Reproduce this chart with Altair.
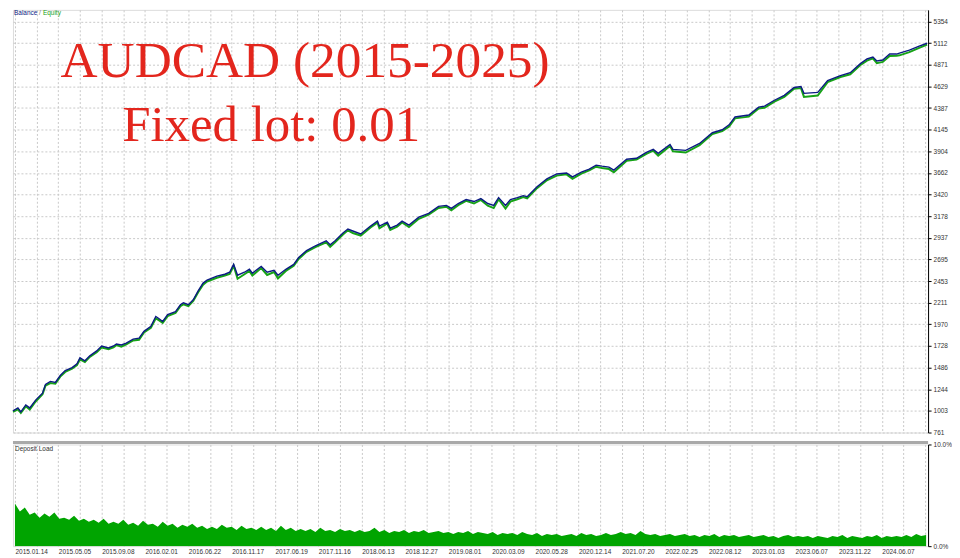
import json
import altair as alt
import pandas as pd

# ---------------- data ----------------
# trade index (position along the test) and balance values
bal_x = [0, 5, 8, 13, 17, 23, 30, 33, 38, 43,
         48, 53, 60, 65, 68, 73, 78, 85, 90, 97,
         102, 105, 110, 115, 122, 128, 133, 140, 145, 148,
         152, 157, 165, 170, 173, 178, 183, 188, 193, 197,
         207, 215, 220, 224, 228, 235, 240, 243, 252, 258,
         265, 269, 277, 285, 290, 298, 307, 318, 322, 327,
         335, 340, 345, 353, 363, 370, 372, 380, 383, 390,
         395, 402, 412, 422, 432, 440, 445, 452, 460, 468,
         475, 482, 488, 493, 500, 505, 512, 518, 522, 532,
         542, 552, 562, 568, 577, 585, 592, 598, 605, 610,
         623, 633, 643, 650, 655, 667, 670, 683, 697, 710,
         720, 727, 733, 747, 757, 763, 773, 783, 793, 800,
         803, 817, 827, 840, 850, 860, 867, 873, 877, 883,
         890, 897, 900, 910, 920, 928]

balance = [1003, 1036, 992, 1069, 1036, 1123, 1200, 1299, 1332, 1321,
           1398, 1453, 1486, 1530, 1596, 1563, 1618, 1673, 1728, 1706,
           1728, 1750, 1739, 1761, 1805, 1816, 1892, 1947, 2057, 2035,
           2002, 2079, 2112, 2189, 2211, 2189, 2244, 2343, 2431, 2464,
           2508, 2530, 2552, 2640, 2519, 2552, 2585, 2541, 2617, 2552,
           2574, 2519, 2585, 2640, 2716, 2793, 2848, 2903, 2859, 2903,
           2991, 3035, 3013, 2980, 3068, 3123, 3068, 3112, 3046, 3079,
           3123, 3079, 3167, 3211, 3288, 3299, 3266, 3320, 3364, 3342,
           3375, 3320, 3299, 3386, 3299, 3364, 3386, 3408, 3397, 3507,
           3595, 3650, 3661, 3617, 3672, 3705, 3749, 3738, 3727, 3694,
           3815, 3826, 3892, 3925, 3881, 3980, 3925, 3914, 3991, 4111,
           4144, 4199, 4287, 4309, 4397, 4408, 4474, 4529, 4617, 4628,
           4551, 4562, 4694, 4749, 4782, 4880, 4935, 4957, 4913, 4924,
           4990, 4990, 5001, 5034, 5078, 5111]

# how far equity sits below balance at each point
eq_gap = [10, 15, 12, 15, 18, 15, 12, 15, 18, 15,
          12, 15, 12, 15, 18, 15, 12, 15, 18, 15,
          15, 12, 18, 15, 15, 18, 12, 15, 20, 18,
          15, 18, 15, 15, 18, 15, 12, 15, 18, 15,
          18, 15, 18, 15, 40, 22, 18, 25, 18, 30,
          20, 35, 18, 15, 15, 12, 15, 18, 22, 15,
          18, 15, 22, 18, 15, 18, 25, 15, 22, 18,
          15, 22, 18, 15, 18, 15, 22, 18, 15, 22,
          15, 25, 30, 18, 35, 22, 18, 15, 18, 15,
          15, 18, 15, 22, 18, 15, 18, 22, 22, 25,
          18, 15, 18, 15, 25, 18, 22, 25, 18, 15,
          15, 18, 15, 18, 15, 18, 15, 18, 15, 18,
          40, 35, 18, 15, 18, 15, 18, 15, 25, 22,
          22, 18, 25, 22, 18, 15]

# deposit load in %, one value per 5 trades starting at trade 2
deposit_load = [4.2, 3.4, 3.8, 3.1, 3.3, 2.8, 3.2, 2.9, 3.3, 2.7,
                2.8, 2.6, 3.0, 2.5, 2.7, 2.4, 2.6, 2.3, 2.7, 2.2,
                2.4, 2.2, 2.6, 2.1, 2.3, 2.0, 2.5, 2.1, 2.2, 1.9,
                2.4, 2.0, 2.2, 1.8, 2.1, 1.9, 2.2, 1.8, 2.0, 1.7,
                1.9, 1.7, 2.1, 1.8, 1.9, 1.6, 2.0, 1.7, 1.8, 1.6,
                1.9, 1.6, 1.8, 1.5, 2.0, 1.6, 1.8, 1.5, 1.7, 1.5,
                1.7, 1.4, 1.8, 1.5, 1.6, 1.4, 1.7, 1.5, 1.6, 1.4,
                1.6, 1.4, 1.5, 1.8, 1.4, 1.6, 1.3, 1.5, 1.4, 1.6,
                1.3, 1.5, 1.4, 1.6, 1.3, 1.4, 1.5, 1.3, 1.4, 1.2,
                1.4, 1.3, 1.5, 1.2, 1.4, 1.3, 1.2, 1.4, 1.1, 1.3,
                1.2, 1.3, 1.1, 1.4, 1.2, 1.1, 1.3, 1.0, 1.2, 1.1,
                1.2, 1.0, 1.1, 1.2, 1.0, 1.3, 1.1, 1.2, 1.0, 1.1,
                1.3, 1.1, 1.2, 1.4, 1.2, 1.3, 1.1, 1.5, 1.2, 1.1,
                1.2, 1.0, 1.1, 1.2, 1.0, 1.1, 1.2, 1.0, 1.1, 0.9,
                1.1, 1.0, 1.2, 0.9, 1.1, 1.0, 1.1, 0.9, 1.0, 1.1,
                0.9, 1.0, 1.1, 0.9, 1.0, 0.8, 1.0, 1.1, 0.9, 1.0,
                0.9, 1.0, 0.8, 1.0, 0.9, 0.8, 1.0, 0.9, 1.1, 0.8,
                1.0, 0.9, 0.8, 1.0, 0.9, 1.1, 0.8, 1.0, 0.9, 1.0,
                0.9, 1.1, 0.9, 1.2, 1.0, 1.1]

y_ticks = [761, 1003, 1244, 1486, 1728, 1970, 2211, 2453, 2695, 2937,
           3178, 3420, 3662, 3904, 4145, 4387, 4629, 4871, 5112, 5354]

date_labels = ["2015.01.14", "2015.05.05", "2015.09.08", "2016.02.01", "2016.06.22",
               "2016.11.17", "2017.06.19", "2017.11.16", "2018.06.13", "2018.12.27",
               "2019.08.01", "2020.03.09", "2020.05.28", "2020.12.14", "2021.07.20",
               "2022.02.25", "2022.08.12", "2023.01.03", "2023.06.07", "2023.11.22",
               "2024.06.07"]

title_lines = ["AUDCAD (2015-2025)", "Fixed lot: 0.01"]

# ---------------- styling ----------------
TRADES = 929
Y_TOP = 5484
DEP_STEP = 5
FONT = "Liberation Sans"
RED = "#e3261d"
NAVY = "#0c1a84"
GREEN = "#17a317"
BAR_GREEN = "#00a400"
GRID = "#c9c9c9"
W = 918

bal_df = pd.DataFrame({
    "trade": bal_x,
    "balance": balance,
    "equity": [b - g for b, g in zip(balance, eq_gap)],
})
dep_df = pd.DataFrame({
    "trade": [2 + DEP_STEP * i for i in range(len(deposit_load))],
    "load": deposit_load,
})

grid_vals = list(range(2, TRADES, 22))
label_expr = ("((datum.value - 2) % 44 == 0) ? " + json.dumps(date_labels)
              + "[(datum.value - 2) / 44] : ''")

xscale = alt.Scale(domain=[0, TRADES], nice=False, zero=False)
y_scale = alt.Scale(domain=[761, Y_TOP], nice=False, zero=False)


def x_main():
    return alt.X("trade:Q", scale=xscale, title=None,
                 axis=alt.Axis(values=grid_vals, tickCount=len(grid_vals), labels=False,
                               ticks=False, domain=False, grid=True, gridDash=[2, 2],
                               gridColor=GRID))


def y_main(field):
    return alt.Y(field, scale=y_scale, title=None,
                 axis=alt.Axis(orient="right", values=y_ticks, tickCount=len(y_ticks),
                               format="d",
                               labelFont=FONT, labelFontSize=6.5, labelColor="#333333",
                               labelPadding=2, tickSize=3, tickColor="#000000",
                               domainColor="#000000", grid=True, gridDash=[2, 2],
                               gridColor=GRID, labelOverlap=False))


eq_line = alt.Chart(bal_df).mark_line(color=GREEN, strokeWidth=2.0).encode(
    x=x_main(), y=y_main("equity:Q"))
bal_line = alt.Chart(bal_df).mark_line(color=NAVY, strokeWidth=1.4).encode(
    x=x_main(), y=y_main("balance:Q"))

t1 = alt.Chart(pd.DataFrame({"t": [title_lines[0]]})).mark_text(
    font="Liberation Serif", fontSize=51.5, color=RED, align="center",
    baseline="alphabetic").encode(x=alt.value(293), y=alt.value(67), text="t:N")
t2 = alt.Chart(pd.DataFrame({"t": [title_lines[1]]})).mark_text(
    font="Liberation Serif", fontSize=51, color=RED, align="center",
    baseline="alphabetic").encode(x=alt.value(259), y=alt.value(132), text="t:N")

legend_df = pd.DataFrame({"t": ["Balance", "/", "Equity"],
                          "c": [NAVY, "#777777", GREEN],
                          "px": [1, 26, 30]})
legend = alt.Chart(legend_df).mark_text(
    font=FONT, fontSize=6.5, align="left", baseline="middle").encode(
    x=alt.X("px:Q", scale=None), y=alt.value(3), text="t:N",
    color=alt.Color("c:N", scale=None))

main = alt.layer(eq_line, bal_line, t1, t2, legend).properties(width=W, height=424)

x_dep = alt.X("trade:Q", scale=xscale, title=None,
              axis=alt.Axis(values=grid_vals, tickCount=len(grid_vals),
                            labelExpr=label_expr, labelAlign="left",
                            labelFont=FONT, labelFontSize=6.5, labelColor="#333333",
                            labelPadding=2, labelOverlap=False, labelFlush=False,
                            ticks=False, domain=False, grid=True, gridDash=[2, 2],
                            gridColor=GRID))
area = alt.Chart(dep_df).mark_area(color=BAR_GREEN, clip=True, opacity=1).encode(
    x=x_dep,
    y=alt.Y("load:Q", scale=alt.Scale(domain=[0, 10], nice=False),
            axis=alt.Axis(orient="right", values=[0, 10], title=None,
                          labelExpr="format(datum.value, '.1f') + '%'",
                          labelFont=FONT, labelFontSize=6.5, labelColor="#333333",
                          labelPadding=2, tickSize=3, tickColor="#000000",
                          domainColor="#000000", grid=False)))
sep = alt.Chart(pd.DataFrame({"a": [0]})).mark_rule(color="#a9a9a9", strokeWidth=3).encode(
    x=alt.value(0), x2=alt.value(W), y=alt.value(-2))
dep_title = alt.Chart(pd.DataFrame({"t": ["Deposit Load"]})).mark_text(
    font=FONT, fontSize=6.5, color="#333333", align="left", baseline="middle").encode(
    x=alt.value(2), y=alt.value(5), text="t:N")

dep = alt.layer(area, sep, dep_title).properties(width=W, height=102)

chart = alt.VConcatChart(
    vconcat=[main, dep], spacing=4, padding=0,
).configure_view(stroke="#3c3c3c", strokeWidth=1).configure(
    background="white", padding=0)

chart.save("out.html", embed_options={"renderer": "svg", "actions": False})
